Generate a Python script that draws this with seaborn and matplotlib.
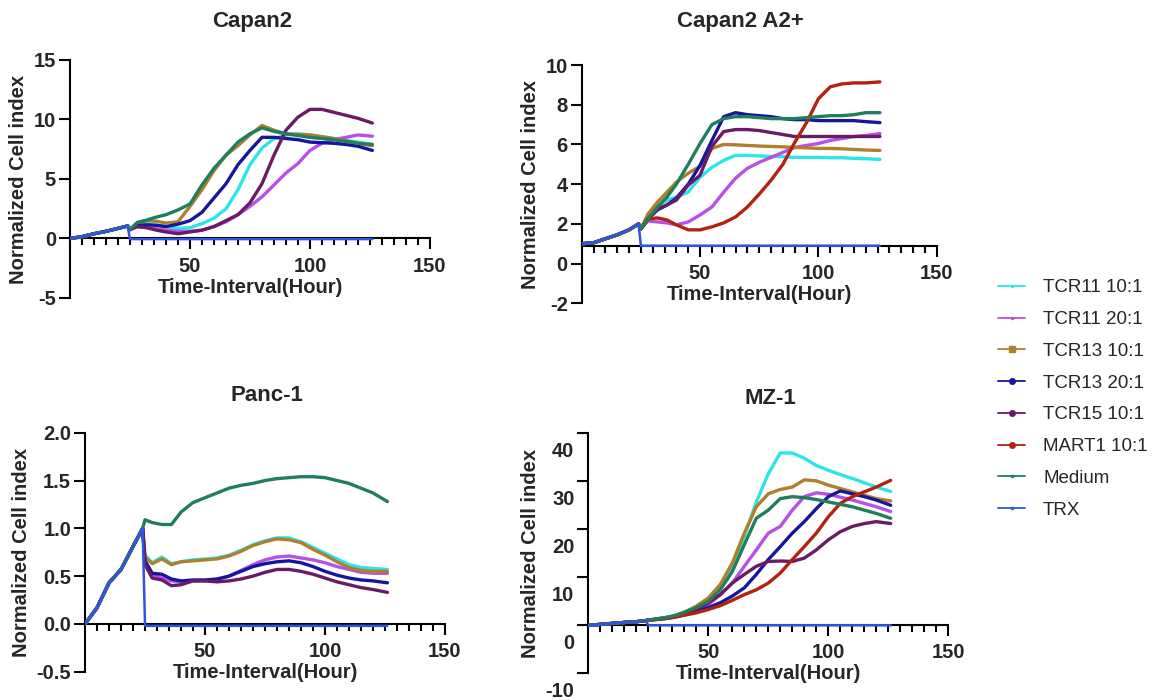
import pandas as pd
import matplotlib
matplotlib.use("Agg")
import matplotlib.pyplot as plt
import matplotlib.transforms as mtransforms
from matplotlib.lines import Line2D
from matplotlib.ticker import FixedLocator
import seaborn as sns

# legend entries, colours and legend markers
series_names = ["TCR11 10:1", "TCR11 20:1", "TCR13 10:1", "TCR13 20:1",
                "TCR15 10:1", "MART1 10:1", "Medium", "TRX"]
series_colors = ["#2CE5E8", "#B84FE6", "#B07F2C", "#16169C",
                 "#6B1A66", "#B3220F", "#1F7F5C", "#2F55E0"]
legend_markers = [".", ".", "s", "o", "o", "o", ".", "."]
legend_msizes = [3, 3, 5, 4, 4, 4, 3, 3]

# sampling times (hours); first 6 points are before treatment (shared by all wells)
hours = [0, 5, 10, 15, 20, 24, 25, 28, 32, 36, 40, 45, 50, 55, 60, 65,
         70, 75, 80, 85, 90, 95, 100, 105, 110, 115, 120, 126]

# ---- Capan2 ----
capan2_early = [0, 0.15, 0.4, 0.6, 0.85, 1.05]
capan2 = {
    "TCR11 10:1": [0.75, 1.15, 1.25, 1.15, 1.0, 0.85, 0.9, 1.25, 1.7, 2.5, 4.1, 6.2, 7.6, 8.4,
                   8.7, 8.8, 8.7, 8.55, 8.4, 8.25, 8.1, 7.9],
    "TCR11 20:1": [0.75, 1.0, 0.95, 0.8, 0.7, 0.6, 0.6, 0.7, 1.0, 1.4, 2.0, 2.7, 3.5, 4.5,
                   5.5, 6.3, 7.4, 8.0, 8.3, 8.5, 8.7, 8.6],
    "TCR13 10:1": [0.75, 1.3, 1.5, 1.45, 1.3, 1.4, 2.7, 4.1, 5.7, 7.0, 7.8, 8.7, 9.5, 9.1,
                   8.8, 8.75, 8.7, 8.55, 8.4, 8.2, 8.0, 7.8],
    "TCR13 20:1": [0.75, 1.1, 1.15, 1.1, 1.0, 1.2, 1.5, 2.2, 3.4, 4.6, 6.2, 7.4, 8.5, 8.5,
                   8.4, 8.3, 8.1, 8.05, 8.0, 7.9, 7.75, 7.4],
    "TCR15 10:1": [0.75, 1.0, 0.9, 0.7, 0.55, 0.4, 0.55, 0.7, 1.0, 1.5, 2.0, 3.0, 4.6, 7.0,
                   9.1, 10.2, 10.85, 10.85, 10.6, 10.35, 10.1, 9.7],
    "Medium": [0.75, 1.35, 1.55, 1.8, 2.0, 2.4, 2.9, 4.5, 5.9, 7.0, 8.1, 8.8, 9.3, 9.0,
               8.8, 8.65, 8.5, 8.4, 8.3, 8.15, 8.0, 7.9],
    "TRX": [-0.05] * 22,
}

# ---- Capan2 A2+ ----
a2_early = [1.0, 1.05, 1.25, 1.45, 1.7, 2.0]
a2 = {
    "TCR11 10:1": [1.75, 2.35, 2.85, 3.2, 3.35, 3.6, 4.35, 4.85, 5.2, 5.45, 5.45, 5.42, 5.4,
                   5.38, 5.35, 5.35, 5.35, 5.33, 5.33, 5.3, 5.28, 5.25],
    "TCR11 20:1": [1.75, 2.15, 2.1, 2.05, 1.95, 2.1, 2.45, 2.85, 3.6, 4.3, 4.8, 5.1, 5.35,
                   5.6, 5.85, 5.95, 6.05, 6.2, 6.3, 6.4, 6.45, 6.55],
    "TCR13 10:1": [1.75, 2.5, 3.1, 3.6, 4.1, 4.55, 4.9, 5.8, 6.0, 5.98, 5.95, 5.92, 5.9,
                   5.88, 5.85, 5.83, 5.8, 5.8, 5.78, 5.75, 5.72, 5.7],
    "TCR13 20:1": [1.75, 2.25, 2.7, 2.95, 3.3, 4.0, 4.95, 6.2, 7.4, 7.6, 7.5, 7.45, 7.4,
                   7.3, 7.25, 7.25, 7.2, 7.2, 7.2, 7.2, 7.15, 7.1],
    "TCR15 10:1": [1.75, 2.25, 2.75, 2.95, 3.2, 3.95, 4.45, 5.9, 6.65, 6.75, 6.75, 6.7, 6.6,
                   6.5, 6.4, 6.4, 6.4, 6.4, 6.4, 6.4, 6.4, 6.4],
    "MART1 10:1": [1.75, 2.25, 2.3, 2.2, 1.95, 1.7, 1.7, 1.85, 2.05, 2.35, 2.85, 3.5, 4.2,
                   5.0, 6.1, 7.1, 8.3, 8.9, 9.05, 9.1, 9.1, 9.15],
    "Medium": [1.75, 2.25, 2.85, 3.35, 4.0, 5.0, 6.05, 7.0, 7.3, 7.4, 7.4, 7.35, 7.3, 7.3,
               7.3, 7.35, 7.4, 7.45, 7.45, 7.5, 7.6, 7.6],
    "TRX": [0.9] * 22,
}

# ---- Panc-1 ----
panc_early = [0, 0.17, 0.43, 0.57, 0.81, 1.0]
panc = {
    "TCR11 10:1": [0.72, 0.64, 0.7, 0.63, 0.65, 0.67, 0.68, 0.69, 0.72, 0.77, 0.83, 0.87,
                   0.9, 0.9, 0.86, 0.8, 0.74, 0.68, 0.62, 0.59, 0.58, 0.57],
    "TCR11 20:1": [0.65, 0.52, 0.48, 0.45, 0.44, 0.45, 0.45, 0.46, 0.5, 0.56, 0.62, 0.67,
                   0.7, 0.71, 0.69, 0.67, 0.64, 0.6, 0.57, 0.54, 0.53, 0.53],
    "TCR13 10:1": [0.7, 0.63, 0.68, 0.62, 0.65, 0.66, 0.67, 0.68, 0.71, 0.76, 0.82, 0.86,
                   0.89, 0.88, 0.85, 0.78, 0.72, 0.65, 0.59, 0.56, 0.55, 0.55],
    "TCR13 20:1": [0.66, 0.53, 0.52, 0.47, 0.45, 0.46, 0.46, 0.47, 0.5, 0.55, 0.6, 0.63,
                   0.65, 0.66, 0.64, 0.6, 0.55, 0.51, 0.48, 0.46, 0.45, 0.43],
    "TCR15 10:1": [0.62, 0.48, 0.46, 0.4, 0.41, 0.45, 0.45, 0.44, 0.45, 0.47, 0.5, 0.54,
                   0.57, 0.57, 0.55, 0.52, 0.48, 0.44, 0.41, 0.38, 0.36, 0.33],
    "Medium": [1.09, 1.06, 1.04, 1.04, 1.17, 1.27, 1.32, 1.37, 1.42, 1.45, 1.47, 1.5, 1.52,
               1.53, 1.54, 1.54, 1.53, 1.5, 1.47, 1.42, 1.37, 1.28],
    "TRX": [-0.02] * 22,
}

# ---- MZ-1 ----
mz_early = [0, 0.2, 0.4, 0.6, 0.75, 1.0]
mz = {
    "TCR11 10:1": [1.05, 1.3, 1.6, 2.0, 2.8, 3.7, 5.4, 8.1, 12.3, 18.5, 25.7, 31.6, 35.9,
                   35.9, 34.8, 33.3, 32.3, 31.4, 30.6, 29.7, 28.8, 27.9],
    "TCR11 20:1": [1.05, 1.3, 1.5, 1.9, 2.4, 3.0, 4.3, 6.4, 8.8, 12.3, 15.7, 19.2, 20.6,
                   24.0, 26.8, 27.6, 27.3, 26.7, 26.1, 25.4, 24.7, 23.7],
    "TCR13 10:1": [1.05, 1.3, 1.6, 2.0, 2.7, 4.0, 5.7, 8.5, 13.0, 19.2, 24.7, 27.4, 28.3,
                   28.8, 30.3, 30.1, 29.2, 28.5, 27.8, 27.1, 26.4, 25.9],
    "TCR13 20:1": [1.05, 1.2, 1.4, 1.7, 2.2, 2.8, 3.7, 4.7, 6.1, 7.8, 10.6, 13.7, 16.4,
                   19.2, 21.6, 24.3, 26.8, 28.0, 27.4, 26.8, 26.1, 25.0],
    "TCR15 10:1": [1.05, 1.3, 1.5, 1.9, 2.5, 3.3, 4.7, 6.4, 8.8, 10.6, 12.3, 13.3, 13.4,
                   13.3, 14.0, 15.7, 17.8, 19.5, 20.6, 21.2, 21.6, 21.2],
    "MART1 10:1": [1.05, 1.2, 1.4, 1.7, 2.1, 2.6, 3.3, 4.1, 5.2, 6.4, 7.4, 8.8, 10.9,
                   13.7, 16.4, 19.2, 22.6, 25.4, 26.8, 27.8, 28.8, 30.2],
    "Medium": [1.05, 1.3, 1.6, 2.0, 2.7, 3.7, 5.0, 7.4, 11.2, 16.8, 22.3, 24.0, 26.4,
               26.8, 26.6, 26.2, 25.7, 25.2, 24.7, 24.0, 23.3, 22.3],
    "TRX": [0.0] * 22,
}

sns.set_style("ticks")
plt.rcParams["font.family"] = ["Liberation Sans", "DejaVu Sans"]
plt.rcParams["font.weight"] = "bold"
plt.rcParams["axes.unicode_minus"] = False

palette = dict(zip(series_names, series_colors))

fig = plt.figure(figsize=(11.57, 7.0), dpi=100)

panels = [
    # title, early, data, ylim, yticks, x-axis crossing, axes rect, title pos
    ("Capan2", capan2_early, capan2, (-5, 15), [-5, 0, 5, 10, 15], 0.0,
     [0.0605, 0.5743, 0.3111, 0.3400], (0.2178, 0.9686)),
    ("Capan2 A2+", a2_early, a2, (-2, 10), [-2, 0, 2, 4, 6, 8, 10], 0.9,
     [0.5028, 0.5667, 0.3068, 0.3404], (0.6396, 0.9686)),
    ("Panc-1", panc_early, panc, (-0.5, 2.0), [-0.5, 0.0, 0.5, 1.0, 1.5, 2.0], 0.0,
     [0.0735, 0.0404, 0.3111, 0.3414], (0.2308, 0.4357)),
    ("MZ-1", mz_early, mz, (-10, 40), [-10, 0, 10, 20, 30, 40], 0.0,
     [0.5085, 0.0381, 0.3111, 0.3429], (0.6655, 0.4314)),
]

minor_x = [m for m in range(5, 150, 5) if m not in (50, 100)]

for title, early, data, ylim, yticks, xcross, rect, tpos in panels:
    ax = fig.add_axes(rect)
    frames = []
    for name in series_names:
        if name in data:
            frames.append(pd.DataFrame({"time": hours,
                                        "value": early + data[name],
                                        "series": name}))
    df = pd.concat(frames, ignore_index=True)
    order = [n for n in series_names if n in data]
    sns.lineplot(data=df, x="time", y="value", hue="series", hue_order=order,
                 palette=palette, estimator=None, sort=False, legend=False,
                 linewidth=2.4, zorder=3, ax=ax)
    for line, name in zip(ax.lines, order):
        if name == "TRX":
            line.set_linewidth(1.8)

    ax.set_xlim(0, 150)
    ax.set_ylim(*ylim)
    ax.spines["top"].set_visible(False)
    ax.spines["right"].set_visible(False)
    ax.spines["bottom"].set_position(("data", xcross))
    for s in ("left", "bottom"):
        ax.spines[s].set_linewidth(1.5)
        ax.spines[s].set_color("black")
    ax.set_xticks([50, 100, 150])
    ax.xaxis.set_minor_locator(FixedLocator(minor_x))
    ax.set_yticks(yticks)
    if title == "Panc-1":
        ax.set_yticklabels([f"{v:.1f}" for v in yticks])
    ax.tick_params(axis="x", which="major", length=8, width=1.5, pad=5,
                   labelsize=14.5, color="black")
    ax.tick_params(axis="x", which="minor", length=5, width=1.5, color="black")
    ax.tick_params(axis="y", length=8, width=1.5, pad=2, labelsize=14.5, color="black")
    ax.set_xlabel("Time-Interval(Hour)", fontsize=14.5, fontweight="bold", labelpad=1.5)
    ax.set_ylabel("Normalized Cell index", fontsize=14.5, fontweight="bold", labelpad=4)
    ax.set_facecolor("none")

    if title == "MZ-1":
        # the y tick labels sit a bit below their ticks in the original
        shift = mtransforms.ScaledTranslation(0, -0.165, fig.dpi_scale_trans)
        for lab in ax.get_yticklabels():
            lab.set_transform(lab.get_transform() + shift)

    fig.text(tpos[0], tpos[1], title, ha="center", va="center",
             fontsize=16, fontweight="bold")

handles = [Line2D([0], [0], color=c, lw=1.3, marker=m, markersize=ms)
           for c, m, ms in zip(series_colors, legend_markers, legend_msizes)]
fig.legend(handles, series_names, loc="upper left", bbox_to_anchor=(0.8626, 0.601),
           frameon=False, borderpad=0, borderaxespad=0, handlelength=1.45,
           handletextpad=0.95, labelspacing=0.78,
           prop={"size": 13.5, "weight": "normal"})

fig.savefig("out.png", dpi=100)
